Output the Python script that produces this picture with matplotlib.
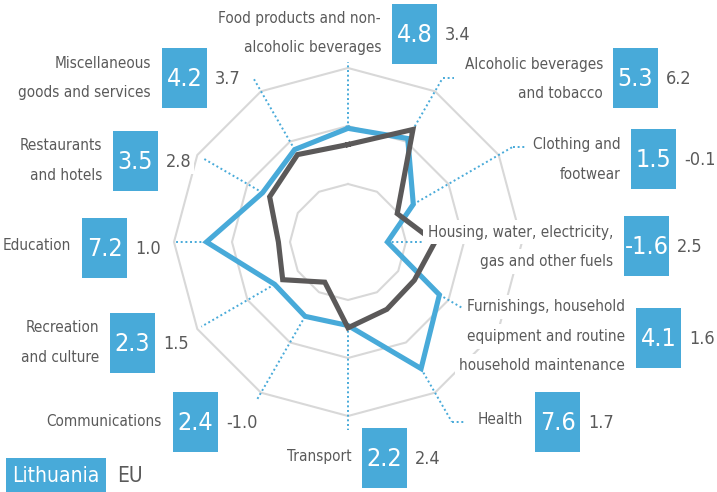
import numpy as np
import matplotlib
matplotlib.use("Agg")
import matplotlib.pyplot as plt
from matplotlib.patches import Rectangle

# ---------------- data ----------------
categories = [
    "Food products and non-\nalcoholic beverages",
    "Alcoholic beverages\nand tobacco",
    "Clothing and\nfootwear",
    "Housing, water, electricity,\ngas and other fuels",
    "Furnishings, household\nequipment and routine\nhousehold maintenance",
    "Health",
    "Transport",
    "Communications",
    "Recreation\nand culture",
    "Education",
    "Restaurants\nand hotels",
    "Miscellaneous\ngoods and services",
]
lithuania = [4.8, 5.3, 1.5, -1.6, 4.1, 7.6, 2.2, 2.4, 2.3, 7.2, 3.5, 4.2]
eu = [3.4, 6.2, -0.1, 2.5, 1.6, 1.7, 2.4, -1.0, 1.5, 1.0, 2.8, 3.7]
ring_levels = [0, 5, 10]
series_names = ["Lithuania", "EU"]

# ---------------- layout (pixels) ----------------
W, H = 717, 492
CX, CY, R = 348, 242, 174
RMIN, RMAX = -5, 10
leader_end = [10.5, 11.3, 11.4, 3.5, 6.3, 12.9, 11.2, 10.7, 9.6, 9.9, 9.5, 11.2]
leader_tail = [0, 11, 12, 0, 0, 12, 0, 0, 0, 0, 0, 0]
label_right = [381, 603, 621, 613, 625, 523, 352, 162, 99, 71, 102, 151]
label_y0 = [18, 64, 145, 232, 307, 420, 457, 421, 328, 245, 146, 63]
box_left = [392, 613, 631, 624, 636, 535, 362, 173, 110, 82, 113, 162]
box_top = [4, 48, 129, 216, 308, 392, 428, 392, 313, 218, 131, 48]
BOX_W, BOX_H = 45, 60
LINE_DY = 29.5
VAL_GAP = 8

BLUE = "#48aad9"
DARK = "#5b5959"
TEXT = "#5a5a5a"
RING = "#d8d8d8"
plt.rcParams["font.family"] = ["DejaVu Sans"]
plt.rcParams["font.stretch"] = "condensed"

fig = plt.figure(figsize=(W / 100, H / 100), dpi=100)
fig.patch.set_facecolor("white")

ax = fig.add_axes([(CX - R) / W, (H - CY - R) / H, 2 * R / W, 2 * R / H],
                  projection="polar", zorder=1)
ax.set_theta_zero_location("N")
ax.set_theta_direction(-1)
ax.set_ylim(RMIN, RMAX)
ax.axis("off")

n = len(categories)
theta = np.arange(n) * 2 * np.pi / n
theta_c = np.append(theta, theta[0])

for lvl in ring_levels:
    ax.plot(theta_c, [lvl] * (n + 1), color=RING, lw=1.5, zorder=1, clip_on=False)

for i in range(n):
    ax.plot([theta[i], theta[i]], [lithuania[i], leader_end[i]], color=BLUE,
            lw=1.4, ls=(0, (1, 1.4)), zorder=2, clip_on=False)

ax.plot(theta_c, np.append(lithuania, lithuania[0]), color=BLUE, lw=3.7,
        solid_joinstyle="miter", zorder=3, clip_on=False)
ax.plot(theta_c, np.append(eu, eu[0]), color=DARK, lw=3.7,
        solid_joinstyle="miter", zorder=4, clip_on=False)

ov = fig.add_axes([0, 0, 1, 1], zorder=5)
ov.set_xlim(0, W)
ov.set_ylim(H, 0)
ov.axis("off")
ov.patch.set_visible(False)

for i in range(n):
    if leader_tail[i]:
        px, py = ax.transData.transform((theta[i], leader_end[i]))
        x0, y0 = ov.transData.inverted().transform((px, py))
        ov.plot([x0, x0 + leader_tail[i]], [y0, y0], color=BLUE, lw=1.4,
                ls=(0, (1, 1.4)), zorder=1)

for i in range(n):
    lines = categories[i].split("\n")
    for k, ln in enumerate(lines):
        ov.text(label_right[i], label_y0[i] + k * LINE_DY, ln, ha="right",
                va="center", fontsize=11, color=TEXT, zorder=3,
                bbox=dict(boxstyle="square,pad=0.3", fc="white", ec="none"))
    ov.add_patch(Rectangle((box_left[i], box_top[i]), BOX_W, BOX_H,
                           fc=BLUE, ec="none", zorder=4))
    ov.text(box_left[i] + BOX_W / 2, box_top[i] + BOX_H / 2 + 1,
            f"{lithuania[i]:.1f}", ha="center", va="center", fontsize=18,
            color="white", zorder=5)
    ov.text(box_left[i] + BOX_W + VAL_GAP, box_top[i] + BOX_H / 2 + 1,
            f"{eu[i]:.1f}", ha="left", va="center", fontsize=13, color=TEXT,
            zorder=3, bbox=dict(boxstyle="square,pad=0.15", fc="white", ec="none"))

ov.add_patch(Rectangle((6, 458), 100, 34, fc=BLUE, ec="none", zorder=4))
ov.text(56, 476, series_names[0], ha="center", va="center", fontsize=15,
        color="white", zorder=5)
ov.text(117, 476, series_names[1], ha="left", va="center", fontsize=15,
        color=TEXT, zorder=5)

fig.savefig("out.png", dpi=100, facecolor="white")
